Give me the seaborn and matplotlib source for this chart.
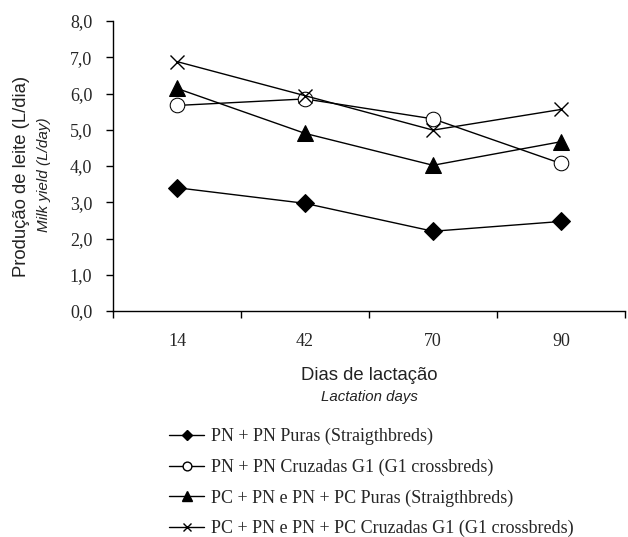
import matplotlib
matplotlib.use("Agg")
import matplotlib.pyplot as plt
import seaborn as sns
import pandas as pd
import numpy as np
from matplotlib.ticker import FixedLocator
from matplotlib.lines import Line2D

sns.set_theme(style="white")
plt.rcParams['font.family'] = ['Liberation Serif', 'DejaVu Serif']

days = ["14", "42", "70", "90"]
pn_puras = [3.40, 2.97, 2.20, 2.47]
pn_cruzadas = [5.67, 5.85, 5.30, 4.07]
pc_puras = [6.14, 4.90, 4.02, 4.67]
pc_cruzadas = [6.88, 5.94, 4.99, 5.56]

labels = [
    "PN + PN Puras (Straigthbreds)",
    "PN + PN Cruzadas G1 (G1 crossbreds)",
    "PC + PN e PN + PC Puras (Straigthbreds)",
    "PC + PN e PN + PC Cruzadas G1 (G1 crossbreds)",
]
series = [pn_puras, pn_cruzadas, pc_puras, pc_cruzadas]
styles = [
    dict(marker="D", markerfacecolor="black", markersize=9),
    dict(marker="o", markerfacecolor="white", markersize=10.5),
    dict(marker="^", markerfacecolor="black", markersize=11),
    dict(marker="x", markerfacecolor="none", markersize=10, markeredgewidth=1.0),
]

fig = plt.figure(figsize=(6.28, 5.37), dpi=100)
ax = fig.add_axes([113/628, 1 - 311/537, (625-113)/628, (311-21)/537])

xpos = np.arange(len(days))
for lab, vals, st in zip(labels, series, styles):
    df = pd.DataFrame({"x": xpos, "y": vals})
    sns.lineplot(data=df, x="x", y="y", ax=ax, color="black", linewidth=1.0,
                 markeredgecolor="black", label=lab, **st)

ax.set_xlim(-0.5, len(days) - 0.5)
ax.set_ylim(0, 8)
ax.set_xticks(xpos)
ax.set_xticklabels(days, fontsize=13)
ax.xaxis.set_minor_locator(FixedLocator(np.arange(-0.5, len(days), 1.0)))
ax.tick_params(axis="x", which="major", length=0, pad=16)
ax.tick_params(axis="x", which="minor", length=5, width=1, color="black", direction="out", bottom=True)
yt = np.arange(0, 9, 1)
ax.set_yticks(yt)
ax.set_yticklabels([f"{v:.1f}".replace(".", ",") for v in yt], fontsize=13)
ax.tick_params(axis="y", length=5, width=1, color="black", direction="out", left=True, pad=10)
for s in ["top", "right"]:
    ax.spines[s].set_visible(False)
for s in ["left", "bottom"]:
    ax.spines[s].set_color("black")
    ax.spines[s].set_linewidth(1.0)
ax.set_xlabel("")
ax.set_ylabel("")

ax.get_legend().remove()
hs = []
for st in styles:
    s2 = dict(st)
    s2["markersize"] = st["markersize"] * 0.6
    hs.append(Line2D([], [], color="black", linewidth=1.0, markeredgecolor="black", **s2))
fig.legend(hs, labels, loc="upper left", bbox_to_anchor=(169/628, 1 - 428/537),
           frameon=False, fontsize=13, handlelength=1.95, handletextpad=0.35,
           labelspacing=0.74, borderpad=0, borderaxespad=0)

fig.text(22/628, 1 - 176/537, "Produção de leite (L/dia)", rotation=90, ha="center", va="center",
         fontsize=13.3, family=["Liberation Sans", "DejaVu Sans"], color="#222222")
fig.text(44/628, 1 - 175/537, "Milk yield (L/day)", rotation=90, ha="center", va="center",
         fontsize=11, style="italic", family=["Liberation Sans", "DejaVu Sans"], color="#222222")
fig.text(369/628, 1 - 375/537, "Dias de lactação", ha="center", va="center",
         fontsize=13.3, family=["Liberation Sans", "DejaVu Sans"], color="#222222")
fig.text(369/628, 1 - 397/537, "Lactation days", ha="center", va="center",
         fontsize=10.8, style="italic", family=["Liberation Sans", "DejaVu Sans"], color="#222222")

fig.savefig("out.png", dpi=100)
